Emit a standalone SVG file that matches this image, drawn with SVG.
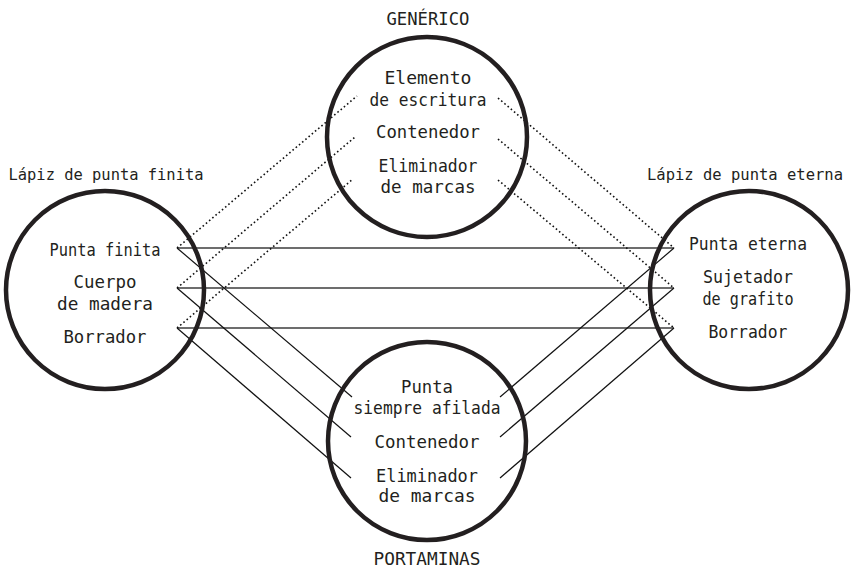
<svg xmlns="http://www.w3.org/2000/svg" width="859" height="570" viewBox="0 0 859 570">
<style>
.c{fill:none;stroke:#231f20;stroke-width:4.5}
text{font-family:"DejaVu Sans Mono","Liberation Mono",monospace;font-size:18px;fill:#231f20;text-anchor:middle}
text.t{font-size:16px}
.h{stroke:#3c3c3c;stroke-width:1.6;fill:none}
.d{stroke:#111;stroke-width:1.2;fill:none}
.o{stroke:#111;stroke-width:1.6;stroke-dasharray:1.6 2.6;fill:none}
</style>
<rect width="859" height="570" fill="#fff"/>
<g id="connectors">
<line class="h" x1="177" y1="248" x2="674" y2="248"/>
<line class="h" x1="177" y1="288" x2="674" y2="288"/>
<line class="h" x1="177" y1="328" x2="674" y2="328"/>
<line class="o" x1="177" y1="248" x2="357" y2="96"/>
<line class="o" x1="177" y1="288" x2="355" y2="137"/>
<line class="o" x1="177" y1="328" x2="353" y2="179"/>
<line class="o" x1="498" y1="98" x2="674" y2="248"/>
<line class="o" x1="498" y1="139" x2="674" y2="288"/>
<line class="o" x1="498" y1="180" x2="674" y2="328"/>
<line class="d" x1="177" y1="248" x2="352" y2="397"/>
<line class="d" x1="177" y1="288" x2="351" y2="437"/>
<line class="d" x1="177" y1="328" x2="351" y2="478"/>
<line class="d" x1="500" y1="397" x2="674" y2="248"/>
<line class="d" x1="500" y1="437" x2="674" y2="288"/>
<line class="d" x1="500" y1="478" x2="674" y2="328"/>
</g>
<g id="generico">
<circle class="c" cx="427" cy="137" r="100"/>
<text x="428" y="25" textLength="83" lengthAdjust="spacingAndGlyphs">GENÉRICO</text>
<text x="428" y="84" textLength="87" lengthAdjust="spacingAndGlyphs">Elemento</text>
<text x="428" y="106" textLength="117" lengthAdjust="spacingAndGlyphs">de escritura</text>
<text x="428" y="138" textLength="104" lengthAdjust="spacingAndGlyphs">Contenedor</text>
<text x="428" y="172" textLength="99" lengthAdjust="spacingAndGlyphs">Eliminador</text>
<text x="428" y="193" textLength="95" lengthAdjust="spacingAndGlyphs">de marcas</text>
</g>
<g id="lapiz-finita">
<circle class="c" cx="105" cy="290" r="99"/>
<text class="t" x="106" y="180" textLength="195" lengthAdjust="spacingAndGlyphs">Lápiz de punta finita</text>
<text x="105" y="256" textLength="111" lengthAdjust="spacingAndGlyphs">Punta finita</text>
<text x="105" y="288" textLength="63" lengthAdjust="spacingAndGlyphs">Cuerpo</text>
<text x="105" y="310" textLength="96" lengthAdjust="spacingAndGlyphs">de madera</text>
<text x="105" y="343" textLength="83" lengthAdjust="spacingAndGlyphs">Borrador</text>
</g>
<g id="lapiz-eterna">
<circle class="c" cx="749" cy="290" r="99"/>
<text class="t" x="745" y="180" textLength="196" lengthAdjust="spacingAndGlyphs">Lápiz de punta eterna</text>
<text x="748" y="250" textLength="118" lengthAdjust="spacingAndGlyphs">Punta eterna</text>
<text x="748" y="283" textLength="90" lengthAdjust="spacingAndGlyphs">Sujetador</text>
<text x="748" y="305" textLength="91" lengthAdjust="spacingAndGlyphs">de grafito</text>
<text x="748" y="338" textLength="79" lengthAdjust="spacingAndGlyphs">Borrador</text>
</g>
<g id="portaminas">
<circle class="c" cx="427" cy="441" r="99"/>
<text x="427" y="393" textLength="52" lengthAdjust="spacingAndGlyphs">Punta</text>
<text x="427" y="414" textLength="147" lengthAdjust="spacingAndGlyphs">siempre afilada</text>
<text x="427" y="448" textLength="105" lengthAdjust="spacingAndGlyphs">Contenedor</text>
<text x="427" y="482" textLength="102" lengthAdjust="spacingAndGlyphs">Eliminador</text>
<text x="427" y="502" textLength="97" lengthAdjust="spacingAndGlyphs">de marcas</text>
<text x="427" y="565" textLength="107" lengthAdjust="spacingAndGlyphs">PORTAMINAS</text>
</g>
</svg>
